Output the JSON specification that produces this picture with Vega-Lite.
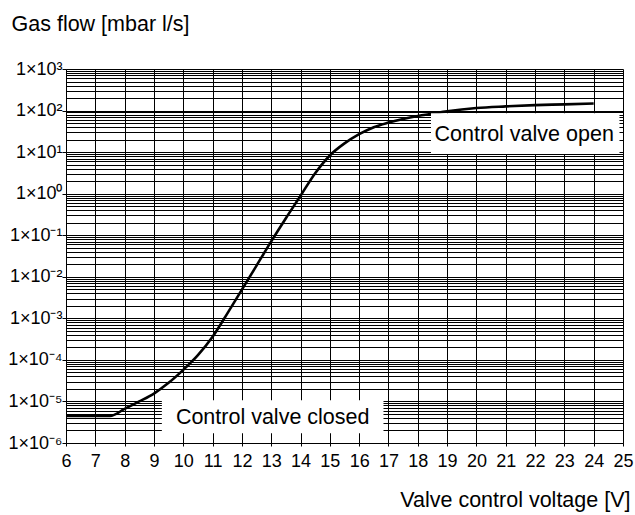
{
  "$schema": "https://vega.github.io/schema/vega-lite/v6.json",
  "width": 557,
  "height": 374,
  "autosize": {"type": "none"},
  "padding": {"left": 66, "top": 69, "right": 12, "bottom": 72},
  "background": "white",
  "config": {
    "font": "Liberation Sans",
    "view": {"stroke": null},
    "axis": {
      "grid": true,
      "gridColor": "#000000",
      "gridOpacity": 1,
      "gridWidth": 1,
      "domainColor": "#000000",
      "tickColor": "#000000",
      "labelColor": "#000000",
      "titleColor": "#000000",
      "labelFont": "Liberation Sans",
      "titleFont": "Liberation Sans",
      "titleFontWeight": "normal"
    }
  },
  "datasets": {
    "curve": [
      {"voltage": 6, "flow": 4.47e-6},
      {"voltage": 7, "flow": 4.47e-6},
      {"voltage": 7.5, "flow": 4.47e-6},
      {"voltage": 8, "flow": 6.6e-6},
      {"voltage": 8.5, "flow": 1.0e-5},
      {"voltage": 9, "flow": 1.55e-5},
      {"voltage": 9.5, "flow": 2.8e-5},
      {"voltage": 10, "flow": 5.75e-5},
      {"voltage": 10.5, "flow": 1.3e-4},
      {"voltage": 11, "flow": 3.6e-4},
      {"voltage": 11.5, "flow": 1.3e-3},
      {"voltage": 12, "flow": 4.9e-3},
      {"voltage": 12.5, "flow": 1.86e-2},
      {"voltage": 13, "flow": 7.1e-2},
      {"voltage": 13.5, "flow": 0.257},
      {"voltage": 14, "flow": 0.89},
      {"voltage": 14.5, "flow": 3.1},
      {"voltage": 15, "flow": 8.3},
      {"voltage": 15.5, "flow": 16.2},
      {"voltage": 16, "flow": 27},
      {"voltage": 16.5, "flow": 39.8},
      {"voltage": 17, "flow": 51.3},
      {"voltage": 17.5, "flow": 63},
      {"voltage": 18, "flow": 74},
      {"voltage": 18.5, "flow": 84},
      {"voltage": 19, "flow": 95.5},
      {"voltage": 20, "flow": 115},
      {"voltage": 21, "flow": 126},
      {"voltage": 22, "flow": 135},
      {"voltage": 23, "flow": 141},
      {"voltage": 24, "flow": 148}
    ],
    "boxes": [
      {"voltage": 9.27, "voltage2": 16.83, "flow": 1.71e-6, "flow2": 1.07e-5},
      {"voltage": 18.45, "voltage2": 24.88, "flow": 9.0, "flow2": 86}
    ],
    "labels": [
      {"label": "Control valve closed", "voltage": 13.05, "flow": 2.83e-6},
      {"label": "Control valve open", "voltage": 21.63, "flow": 18.5}
    ]
  },
  "encoding": {
    "x": {
      "field": "voltage",
      "type": "quantitative",
      "scale": {"domain": [6, 25], "nice": false, "zero": false},
      "axis": {
        "values": [6, 6.5, 7, 7.5, 8, 8.5, 9, 9.5, 10, 10.5, 11, 11.5, 12, 12.5, 13, 13.5, 14, 14.5, 15, 15.5, 16, 16.5, 17, 17.5, 18, 18.5, 19, 19.5, 20, 20.5, 21, 21.5, 22, 22.5, 23, 23.5, 24, 24.5, 25],
        "format": "d",
        "labelExpr": "datum.value % 1 == 0 ? datum.label : ''",
        "labelFontSize": 18,
        "labelBaseline": "alphabetic",
        "labelPadding": 20.5,
        "labelOverlap": false,
        "labelFlush": false,
        "tickSize": 3,
        "tickOpacity": {"condition": {"test": "datum.value % 1 == 0", "value": 1}, "value": 0},
        "title": "Valve control voltage [V]",
        "titleFontSize": 21.5,
        "titleAlign": "right",
        "titleAnchor": null,
        "titleBaseline": "alphabetic",
        "titleX": 564,
        "titleY": 63
      }
    },
    "y": {
      "field": "flow",
      "type": "quantitative",
      "scale": {"type": "log", "domain": [0.000001, 1000], "nice": false},
      "axis": {
        "values": [0.000001, 0.000002, 0.000003, 0.000004, 0.000005, 0.000006, 0.000007, 0.000008, 0.000009,
                   0.00001, 0.00002, 0.00003, 0.00004, 0.00005, 0.00006, 0.00007, 0.00008, 0.00009,
                   0.0001, 0.0002, 0.0003, 0.0004, 0.0005, 0.0006, 0.0007, 0.0008, 0.0009,
                   0.001, 0.002, 0.003, 0.004, 0.005, 0.006, 0.007, 0.008, 0.009,
                   0.01, 0.02, 0.03, 0.04, 0.05, 0.06, 0.07, 0.08, 0.09,
                   0.1, 0.2, 0.3, 0.4, 0.5, 0.6, 0.7, 0.8, 0.9,
                   1, 2, 3, 4, 5, 6, 7, 8, 9,
                   10, 20, 30, 40, 50, 60, 70, 80, 90,
                   100, 200, 300, 400, 500, 600, 700, 800, 900, 1000],
        "labelExpr": "datum.value == 1000 ? '1×10³' : datum.value == 100 ? '1×10²' : datum.value == 10 ? '1×10¹' : datum.value == 1 ? '1×10⁰' : datum.value == 0.1 ? '1×10⁻¹' : datum.value == 0.01 ? '1×10⁻²' : datum.value == 0.001 ? '1×10⁻³' : datum.value == 0.0001 ? '1×10⁻⁴' : datum.value == 0.00001 ? '1×10⁻⁵' : datum.value == 0.000001 ? '1×10⁻⁶' : ''",
        "labelFontSize": 18,
        "labelBaseline": "middle",
        "labelPadding": 0,
        "labelOverlap": false,
        "labelFlush": false,
        "tickSize": 4,
        "tickOpacity": {"condition": {"test": "datum.value == 1000 || datum.value == 100 || datum.value == 10 || datum.value == 1 || datum.value == 0.1 || datum.value == 0.01 || datum.value == 0.001 || datum.value == 0.0001 || datum.value == 0.00001 || datum.value == 0.000001", "value": 1}, "value": 0},
        "title": "Gas flow [mbar l/s]",
        "titleFontSize": 21.5,
        "titleAngle": 0,
        "titleAlign": "left",
        "titleAnchor": null,
        "titleBaseline": "alphabetic",
        "titleX": -55,
        "titleY": -38.5
      }
    }
  },
  "layer": [
    {
      "data": {"name": "curve"},
      "mark": {"type": "line", "color": "#000000", "strokeWidth": 2.6, "interpolate": "monotone"}
    },
    {
      "data": {"name": "boxes"},
      "mark": {"type": "rect", "fill": "#ffffff", "stroke": null},
      "encoding": {
        "x2": {"field": "voltage2"},
        "y2": {"field": "flow2"}
      }
    },
    {
      "data": {"name": "labels"},
      "mark": {"type": "text", "fontSize": 21.5, "color": "#000000", "align": "center", "baseline": "alphabetic", "font": "Liberation Sans"},
      "encoding": {
        "text": {"field": "label"}
      }
    }
  ]
}
